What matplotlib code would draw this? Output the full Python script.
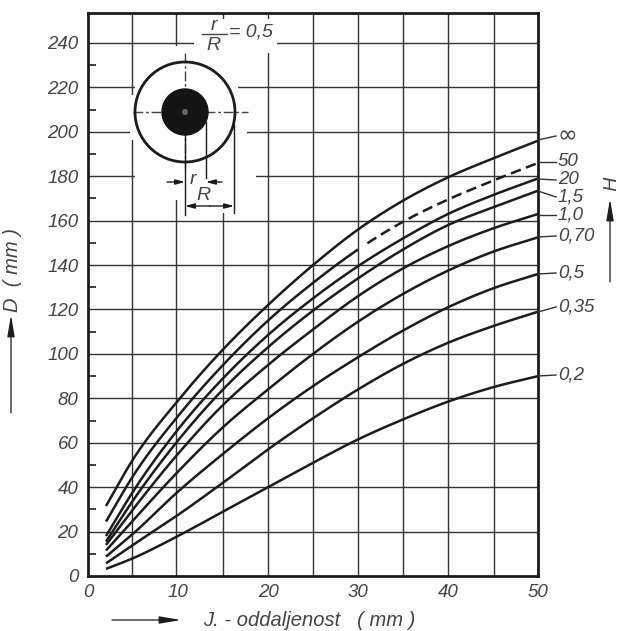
import matplotlib
matplotlib.use("Agg")
import matplotlib.pyplot as plt
import numpy as np
from matplotlib.patches import Circle, Rectangle

plt.rcParams['font.family'] = ['Liberation Sans', 'DejaVu Sans']
INK = '#1c1c1c'
TXT = '#444444'
BG = '#fdfdfd'

x_vals = [2, 5, 10, 15, 20, 25, 30, 35, 40, 45, 50]
curve_inf = [31.5, 52.5, 79, 102, 122, 140, 156, 169, 179.5, 188, 196]
curve_50 = [24.5, 45, 72, 95, 115, 132, 147, 159.5, 169.5, 178, 186]
curve_20 = [18, 38, 66, 89, 108.5, 125, 139.5, 152, 163, 171.5, 179]
curve_15 = [15.5, 34, 61, 84, 103, 119.5, 134, 147, 158, 166, 173.5]
curve_10 = [14, 30, 55, 77, 95, 111, 126, 138.5, 148.5, 156.5, 163]
curve_07 = [11.5, 25, 47, 67, 84, 100, 114.5, 127, 137.5, 146, 152.5]
curve_05 = [8.7, 19, 38, 55, 71, 85.5, 98.5, 110.5, 121, 129.5, 136]
curve_035 = [5.7, 14, 27.5, 42, 57, 71, 84, 95.5, 105, 112.5, 119]
curve_02 = [3.2, 8, 18, 29, 40, 51, 61.5, 70.5, 78.5, 85, 90]
curve_labels = ['∞', '50', '20', '1,5', '1,0', '0,70', '0,5', '0,35', '0,2']
x_ticks = [0, 10, 20, 30, 40, 50]
y_ticks = [0, 20, 40, 60, 80, 100, 120, 140, 160, 180, 200, 220, 240]
x_grid = [4.9, 9.8, 15, 20, 25, 30, 35, 40, 45.1]
y_grid = [20, 40, 60, 80, 100, 120, 140, 160, 180, 200, 220, 240]
y_minor = [10, 30, 50, 70, 90, 110, 130, 150, 170, 190, 210, 230]


def smooth(xs, ys, n=24):
    """Draw a hand-drawn style curve through the read values (cubic Hermite)."""
    xs, ys = np.asarray(xs, float), np.asarray(ys, float)
    m = np.gradient(ys, xs)
    X, Y = [], []
    for i in range(len(xs) - 1):
        t = np.linspace(0, 1, n, endpoint=False)
        h = xs[i + 1] - xs[i]
        X.append(xs[i] + t * h)
        Y.append((2*t**3 - 3*t**2 + 1) * ys[i] + (t**3 - 2*t**2 + t) * h * m[i]
                 + (-2*t**3 + 3*t**2) * ys[i + 1] + (t**3 - t**2) * h * m[i + 1])
    return np.r_[np.concatenate(X), xs[-1]], np.r_[np.concatenate(Y), ys[-1]]


fig = plt.figure(figsize=(6.2, 6.31), dpi=100, facecolor=BG)
ax = fig.add_axes([88/620, 55/631, 450/620, 563/631], facecolor=BG)
ax.set_xlim(0, 50)
ax.set_ylim(0, 253.5)

ax.vlines(x_grid, 0, 253.5, color='#333333', lw=1.0, zorder=1)
ax.hlines(y_grid, 0, 50, color='#333333', lw=1.0, zorder=1)

curves = [curve_inf, curve_50, curve_20, curve_15, curve_10,
          curve_07, curve_05, curve_035, curve_02]
for name, c in zip(curve_labels, curves):
    sx, sy = smooth(x_vals, c)
    if name == '50':
        ax.plot(sx[sx <= 30.2], sy[sx <= 30.2], color=INK, lw=1.8, zorder=3, solid_capstyle='butt')
        ax.plot(sx[sx >= 31], sy[sx >= 31], color=INK, lw=1.8, ls=(0, (4.2, 2.2)), zorder=3)
    else:
        ax.plot(sx, sy, color=INK, lw=1.8, zorder=3, solid_capstyle='butt')

ax.set_xticks(x_ticks)
ax.set_yticks(y_ticks)
ax.set_yticks(y_minor, minor=True)
ax.tick_params(axis='y', which='minor', length=6, width=1.2, direction='in', color=INK)
ax.tick_params(axis='x', which='major', length=0, pad=6, labelsize=13.5, labelcolor=TXT)
ax.tick_params(axis='y', which='major', length=0, pad=7, labelsize=13.5, labelcolor=TXT)
for t in ax.get_xticklabels() + ax.get_yticklabels():
    t.set_style('italic')
for s in ax.spines.values():
    s.set_linewidth(2.0)
    s.set_color(INK)

# overlay in reference pixel coordinates for diagram and annotations
ov = fig.add_axes([0, 0, 1, 1], facecolor='none')
ov.set_xlim(0, 620)
ov.set_ylim(631, 0)
ov.axis('off')

# grid gaps around the inset drawing: (vertical line px, from, to), (horizontal line px, from, to)
v_gaps = [(132, 95, 140), (176, 46, 200), (223, 19, 213), (268, 19, 53)]
h_gaps = [(43.2, 194, 277), (87.6, 135, 238), (132, 131, 247), (176.4, 135, 256)]
for px, a, b in v_gaps:
    ov.add_patch(Rectangle((px - 2.5, a), 5, b - a, fc=BG, ec='none', zorder=2))
for py, a, b in h_gaps:
    ov.add_patch(Rectangle((a, py - 2.5), b - a, 5, fc=BG, ec='none', zorder=2))

cx, cy = 185, 112
ov.add_patch(Circle((cx, cy), 50, fc='none', ec=INK, lw=2.0, zorder=4))
ov.add_patch(Circle((cx, cy), 23, fc='#141414', ec='#141414', zorder=4))
ov.add_patch(Circle((cx, cy), 3, fc='#9a9a9a', ec='none', alpha=0.6, zorder=5))
ov.plot([133, 248], [cy, cy], color='#444444', lw=1.0, ls=(0, (7, 2, 2, 2)), zorder=3)
ov.plot([cx, cx], [53, 168], color='#444444', lw=1.0, ls=(0, (7, 2, 2, 2)), zorder=3)
ov.plot([cx, cx], [135, 215], color=INK, lw=1.0, zorder=3)
ov.plot([206, 206], [122, 178], color=INK, lw=1.0, zorder=5)
ov.plot([234, 234], [125, 213], color=INK, lw=1.0, zorder=3)
ar = dict(arrowstyle='-|>,head_length=0.55,head_width=0.15', color=INK, lw=1.0, shrinkA=0, shrinkB=0)
ov.annotate('', xy=(cx, 182), xytext=(167, 182), arrowprops=ar, zorder=5)
ov.annotate('', xy=(206, 182), xytext=(222, 182), arrowprops=ar, zorder=5)
ov.annotate('', xy=(cx, 206), xytext=(210, 206), arrowprops=ar, zorder=5)
ov.annotate('', xy=(234, 206), xytext=(210, 206), arrowprops=ar, zorder=5)
tk = dict(style='italic', color=TXT, ha='center', va='center', zorder=6)
ov.text(193, 180, 'r', fontsize=14, **tk)
ov.text(203, 195, 'R', fontsize=14, **tk)
ov.text(214, 26, 'r', fontsize=14, **tk)
ov.text(213, 45, 'R', fontsize=14, **tk)
ov.plot([202, 227], [34, 34], color=TXT, lw=1.0, zorder=6)
ov.text(251, 32, '= 0,5', fontsize=14, **tk)

# right side labels
label_y = [136, 162, 180, 197, 215, 236, 273, 307, 375]
curve_end_y = [140, 162, 179, 191, 215, 237, 274, 312, 376]
for name, ly, ey in zip(curve_labels, label_y, curve_end_y):
    ov.plot([538, 556], [ey, ly], color='#333333', lw=1.0, zorder=4)
    if name == '∞':
        ov.text(558, ly - 1, name, fontsize=17, style='italic', color=TXT, ha='left', va='center',
                zorder=6, family='DejaVu Sans')
    else:
        ov.text(558, ly, name, fontsize=13.5, style='italic', color=TXT, ha='left', va='center', zorder=6)

long_ar = dict(arrowstyle='-|>,head_length=1.3,head_width=0.22', color=INK, lw=0.9, shrinkA=0, shrinkB=0)
ov.text(606, 183, 'H', fontsize=14, rotation=270, **tk)
ov.annotate('', xy=(610, 199), xytext=(610, 282), arrowprops=long_ar)
ov.text(13, 270, 'D  ( mm )', fontsize=14.5, rotation=90, **tk)
ov.annotate('', xy=(11, 315), xytext=(11, 413), arrowprops=long_ar)
ov.annotate('', xy=(181, 620), xytext=(112, 620), arrowprops=long_ar)
ov.text(203, 620, 'J. - oddaljenost   ( mm )', fontsize=14.5, style='italic', color=TXT, ha='left', va='center')

fig.savefig('out.png', dpi=100, facecolor=fig.get_facecolor())
